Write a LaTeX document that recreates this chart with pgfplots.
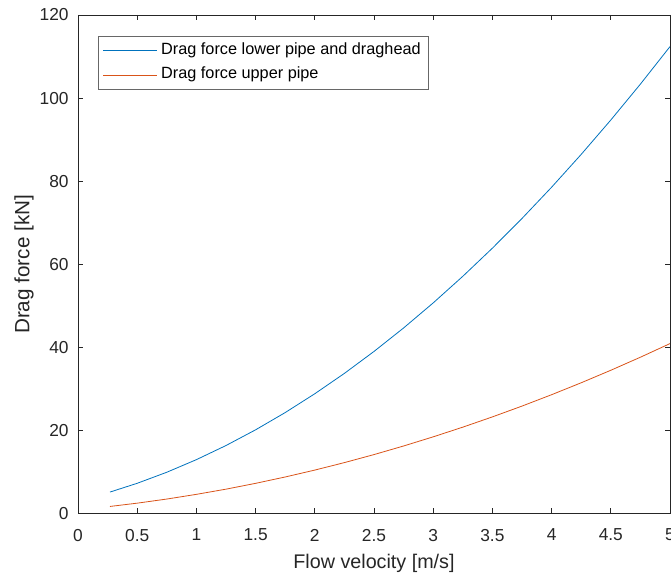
\documentclass[border=0pt]{standalone}
\usepackage{pgfplots}
\pgfplotsset{compat=1.18}
\usepackage{fontspec}
\setmainfont{Liberation Sans}
\definecolor{mblue}{RGB}{0,114,189}
\definecolor{morange}{RGB}{217,83,25}
\definecolor{axgray}{RGB}{38,38,38}
\begin{document}
\begin{tikzpicture}
\begin{axis}[
    scale only axis,
    width=444pt, height=374pt,
    xmin=0, xmax=5, ymin=0, ymax=120,
    xtick={0,0.5,...,5}, ytick={0,20,...,120},
    tick align=inside,
    major tick length=4pt,
    every tick/.style={axgray, line width=0.5pt},
    axis line style={axgray, line width=0.6pt},
    tick label style={font=\fontsize{13}{15}\selectfont, text=axgray},
    /pgf/number format/assume math mode=true,
    xticklabel style={yshift=-8pt},
    yticklabel style={xshift=-3.5pt},
    xlabel={Flow velocity [m/s]},
    ylabel={Drag force [kN]},
    xlabel style={font=\fontsize{14.8}{17}\selectfont, text=axgray,
        at={(axis description cs:0.5,0)}, anchor=center, yshift=-37.5pt},
    ylabel style={font=\fontsize{15.5}{18}\selectfont, text=axgray,
        at={(axis description cs:-0.091,0.5)}, anchor=center},
    legend style={at={(rel axis cs:0,1)}, anchor=north west, xshift=15pt, yshift=-15.5pt,
        draw=axgray!70, line width=0.6pt, font=\fontsize{12.2}{14}\selectfont,
        inner xsep=3.5pt, inner ysep=5pt, row sep=6.2pt,
        nodes={text height=9pt, text depth=3pt, inner xsep=2.5pt, inner ysep=0pt}},
    legend cell align=left,
    legend image code/.code={\draw[#1] (0pt,0pt) -- (40.5pt,0pt);},
]
\addplot[mblue, line width=0.6pt] coordinates {
(0.27,5.20) (0.5,7.31) (0.75,9.97) (1,13.0) (1.25,16.40) (1.5,20.18) (1.75,24.33)
(2,28.86) (2.25,33.76) (2.5,39.04) (2.75,44.69) (3,50.72) (3.25,57.12) (3.5,63.89)
(3.75,71.04) (4,78.56) (4.25,86.46) (4.5,94.73) (4.75,103.37) (5,112.4)};
\addlegendentry{Drag force lower pipe and draghead}
\addplot[morange, line width=0.6pt] coordinates {
(0.27,1.74) (0.5,2.53) (0.75,3.52) (1,4.65) (1.25,5.90) (1.5,7.30) (1.75,8.83)
(2,10.49) (2.25,12.29) (2.5,14.22) (2.75,16.29) (3,18.49) (3.25,20.82) (3.5,23.29)
(3.75,25.89) (4,28.63) (4.25,31.50) (4.5,34.51) (4.75,37.65) (5,40.93)};
\addlegendentry{Drag force upper pipe}
\coordinate (sw) at (rel axis cs:0,0);
\coordinate (ne) at (rel axis cs:1,1);
\end{axis}
\pgfresetboundingbox
\useasboundingbox ([xshift=-58.5pt,yshift=-48pt]sw) rectangle ([xshift=0.75pt,yshift=11.25pt]ne);
\end{tikzpicture}
\end{document}
